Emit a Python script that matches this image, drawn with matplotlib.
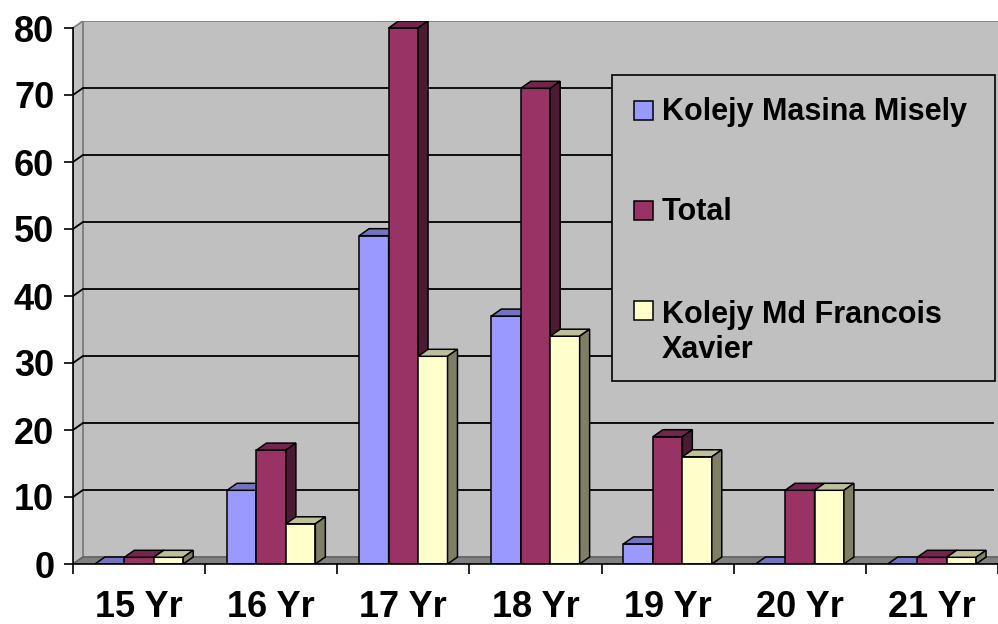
import numpy as np
import matplotlib
matplotlib.use("Agg")
import matplotlib.pyplot as plt
from matplotlib.patches import Polygon, Rectangle

# ---- data ------------------------------------------------------------ #
categories = ["15 Yr", "16 Yr", "17 Yr", "18 Yr", "19 Yr", "20 Yr", "21 Yr"]
masina = [0, 11, 49, 37, 3, 0, 0]
total = [1, 17, 80, 71, 19, 11, 1]
francois = [1, 6, 31, 34, 16, 11, 1]

series_names = ["Kolejy Masina Misely", "Total", "Kolejy Md Francois\nXavier"]
series_values = [masina, total, francois]
yticks = np.arange(0, 81, 10)

# front face / top / right side colours (excel 3-D shading)
face_cols = ["#9999FF", "#993366", "#FFFFCC"]
top_cols = ["#7373BF", "#73264D", "#BFBF99"]
side_cols = ["#4C4C80", "#4D1A33", "#7F7F66"]

W, H = 998, 624
plt.rcParams["font.family"] = ["Liberation Sans", "DejaVu Sans"]
plt.rcParams["font.weight"] = "bold"

fig = plt.figure(figsize=(W / 100, H / 100), dpi=100)
fig.patch.set_facecolor("white")

# plot area in pixels: front y-axis at x=73, value 0 at y=564, 80 at y=28
px_per_cat = 132.7
px_per_unit = (564 - 28) / 80.0
dx = 10 / px_per_cat            # depth offset, in category units
dy = 7 / px_per_unit            # depth offset, in value units
xmax = (W - 73) / px_per_cat
ymax = 80 + dy

ax = fig.add_axes([73 / W, (H - 564) / H, (W - 73) / W, (564 - 21) / H])
ax.set_xlim(0, xmax)
ax.set_ylim(0, ymax)
ax.set_facecolor("none")

# walls and floor
wall = Rectangle((dx, dy), xmax, 80, facecolor="#C0C0C0", edgecolor="#808080",
                 lw=1.3, zorder=0.5)
ax.add_patch(wall)
side = Polygon([(0, 0), (dx, dy), (dx, 80 + dy), (0, 80)], closed=True,
               facecolor="#C0C0C0", edgecolor="#808080", lw=1.3, zorder=0.6)
ax.add_patch(side)
floor = Polygon([(0, 0), (xmax + 1, 0), (xmax + 1 + dx, dy), (dx, dy)], closed=True,
                facecolor="#808080", edgecolor="#606060", lw=1.0, zorder=0.7)
ax.add_patch(floor)

for v in yticks[1:-1]:
    ax.plot([dx, xmax], [v + dy, v + dy], color="black", lw=1.3, zorder=0.8,
            solid_capstyle="butt")
    ax.plot([0, dx], [v, v + dy], color="black", lw=1.3, zorder=0.8)

# bars, drawn left to right so each front face hides its neighbour's side
gap = 22 / px_per_cat
w = (1 - 2 * gap) / 3
z = 2
for i in range(len(categories)):
    for j, vals in enumerate(series_values):
        h = vals[i]
        x0 = i + gap + j * w
        ax.bar(x0, h, width=w, align="edge", color=face_cols[j], edgecolor="black",
               lw=1.1, zorder=z)
        top = Polygon([(x0, h), (x0 + w, h), (x0 + w + dx, h + dy), (x0 + dx, h + dy)],
                      closed=True, facecolor=top_cols[j], edgecolor="black", lw=1.1,
                      zorder=z + 0.1)
        ax.add_patch(top)
        if h > 0:
            sd = Polygon([(x0 + w, 0), (x0 + w + dx, dy), (x0 + w + dx, h + dy), (x0 + w, h)],
                         closed=True, facecolor=side_cols[j], edgecolor="black", lw=1.1,
                         zorder=z + 0.1)
            ax.add_patch(sd)
        z += 1

# axes, ticks
for s in ["top", "right"]:
    ax.spines[s].set_visible(False)
ax.spines["left"].set_bounds(0, 80)
ax.spines["left"].set_linewidth(1.2)
ax.spines["bottom"].set_linewidth(1.2)
ax.spines["left"].set_zorder(50)
ax.spines["bottom"].set_zorder(50)

ax.set_yticks(yticks)
ax.set_yticklabels([str(v) for v in yticks])
ax.tick_params(axis="y", direction="out", length=6.5, width=1.2, pad=7,
               labelsize=26)
ax.set_xticks(np.arange(0, len(categories) + 1))
ax.set_xticklabels([])
ax.set_xticks(np.arange(len(categories)) + 0.5, minor=True)
ax.set_xticklabels(categories, minor=True)
ax.tick_params(axis="x", which="major", direction="out", length=7.5, width=1.2)
ax.tick_params(axis="x", which="minor", length=0, pad=19, labelsize=26)
for lab in ax.get_xticklabels(minor=True) + ax.get_yticklabels():
    lab.set_fontweight("bold")


# legend drawn as a box of patches + text, positioned in pixels
def fx(x):
    return x / W


def fy(y):
    return (H - y) / H


fig.add_artist(Rectangle((fx(612), fy(381)), (995 - 612) / W, (381 - 75) / H,
                         transform=fig.transFigure, facecolor="#C0C0C0",
                         edgecolor="black", lw=1.2, zorder=100))
baselines = [120, 220, 320]
line_step = 38
for j, name in enumerate(series_names):
    b = baselines[j]
    n_lines = name.count("\n") + 1
    fig.add_artist(Rectangle((fx(634), fy(b)), 19 / W, 19 / H,
                             transform=fig.transFigure, facecolor=face_cols[j],
                             edgecolor="black", lw=1.1, zorder=101))
    # multi-line text aligns its last baseline, so shift by the extra lines
    fig.text(fx(662), fy(b + line_step * (n_lines - 1)), name, fontsize=22,
             fontweight="bold", ha="left", va="baseline", linespacing=1.22,
             zorder=102)

fig.savefig("out.png", dpi=100)
